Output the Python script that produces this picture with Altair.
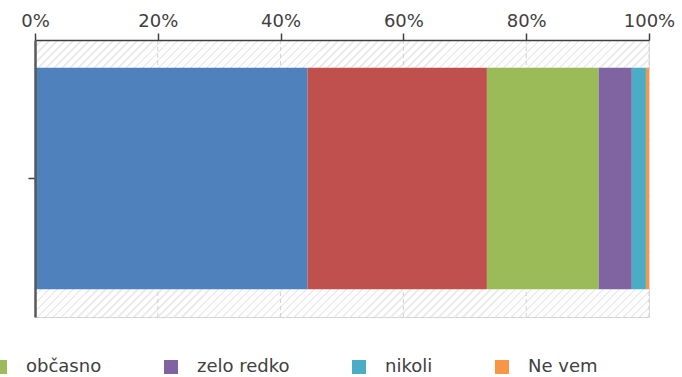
import altair as alt
import pandas as pd

# ---- data ----
odgovori = ["vedno", "pogosto", "občasno", "zelo redko", "nikoli", "Ne vem"]
delezi = [44.4, 29.2, 18.2, 5.4, 2.3, 0.5]
barve = ["#4f81bd", "#c0504d", "#9bbb59", "#8064a2", "#4bacc6", "#f79646"]
vidni_v_legendi = ["občasno", "zelo redko", "nikoli", "Ne vem"]
oznake_x = [0, 0.2, 0.4, 0.6, 0.8, 1.0]
mreza_x = [0.2, 0.4, 0.6, 0.8, 1.0]

df = pd.DataFrame({
    "odgovor": odgovori,
    "delez": delezi,
    "red": list(range(len(odgovori))),
    "skupina": ["Skupaj"] * len(odgovori),
})
df_grid = pd.DataFrame({"x": mreza_x})

W, H = 614, 277

# diagonal hatch for the plot background (stripes with transparent gaps)
n_stripes = 111
stops = []
for i in range(n_stripes):
    a = i / n_stripes
    b = (i + 0.7) / n_stripes
    c = (i + 1) / n_stripes
    stops += [
        {"offset": round(a, 6), "color": "rgba(255,255,255,0)"},
        {"offset": round(b, 6), "color": "rgba(255,255,255,0)"},
        {"offset": round(b, 6), "color": "#ececec"},
        {"offset": round(min(c, 1.0), 6), "color": "#ececec"},
    ]
s = (W + H) / (W * W + H * H)
hatch = alt.LinearGradient(
    gradient="linear", x1=0, y1=0, x2=round(s * W, 4), y2=round(s * H, 4), stops=stops
)

top_axis = alt.Axis(
    orient="top", format="%", values=oznake_x, title=None, grid=False,
    domainColor="#3f3f3f", domainWidth=1.5,
    tickColor="#3f3f3f", tickSize=7, tickWidth=1.5,
    labelFont="DejaVu Sans", labelFontSize=18, labelColor="#404040",
    labelPadding=3, labelFlush=False, zindex=1,
)
bottom_axis = alt.Axis(
    orient="bottom", title=None, labels=False, ticks=False, grid=False,
    domainColor="#d0d0d0", domainDash=[4, 3], domainWidth=1, zindex=1,
)
x_scale = alt.Scale(domain=[0, 1], nice=False, zero=True)

bg = alt.Chart(pd.DataFrame({"k": [0]})).mark_rect(fill=hatch).encode(
    x=alt.X(datum=0, type="quantitative", scale=x_scale, axis=bottom_axis),
    x2=alt.X2(datum=1),
)

grid = alt.Chart(df_grid).mark_rule(
    color="#d0d0d0", strokeDash=[4, 3], strokeWidth=1
).encode(
    x=alt.X("x:Q", scale=x_scale, axis=None),
)

bars = alt.Chart(df).mark_bar().encode(
    x=alt.X("delez:Q", stack="normalize", scale=x_scale, axis=top_axis),
    y=alt.Y(
        "skupina:N",
        scale=alt.Scale(paddingInner=0.2, paddingOuter=0.1),
        axis=alt.Axis(
            labels=False, title=None, grid=False,
            domainColor="#595959", domainWidth=2.5,
            tickColor="#3f3f3f", tickSize=7, tickWidth=1.5, zindex=1,
        ),
    ),
    color=alt.Color(
        "odgovor:N",
        scale=alt.Scale(domain=odgovori, range=barve),
        legend=alt.Legend(
            orient="none", legendX=-44, legendY=318, direction="horizontal",
            title=None, values=vidni_v_legendi,
            symbolType="square", symbolSize=196, symbolStrokeWidth=0,
            symbolOpacity=1,
            labelFont="DejaVu Sans", labelFontSize=18, labelColor="#404040",
            labelOffset=17, columnPadding=60, padding=0,
        ),
    ),
    order=alt.Order("red:Q"),
)

chart = alt.layer(bg, grid, bars).resolve_axis(x="independent").properties(
    width=W, height=H,
    autosize=alt.AutoSizeParams(type="none"),
    padding={"left": 35, "top": 40, "right": 33, "bottom": 60},
).configure_view(
    stroke="transparent",
).configure(background="white")

chart.save("out.html", embed_options={"renderer": "svg", "actions": False})
